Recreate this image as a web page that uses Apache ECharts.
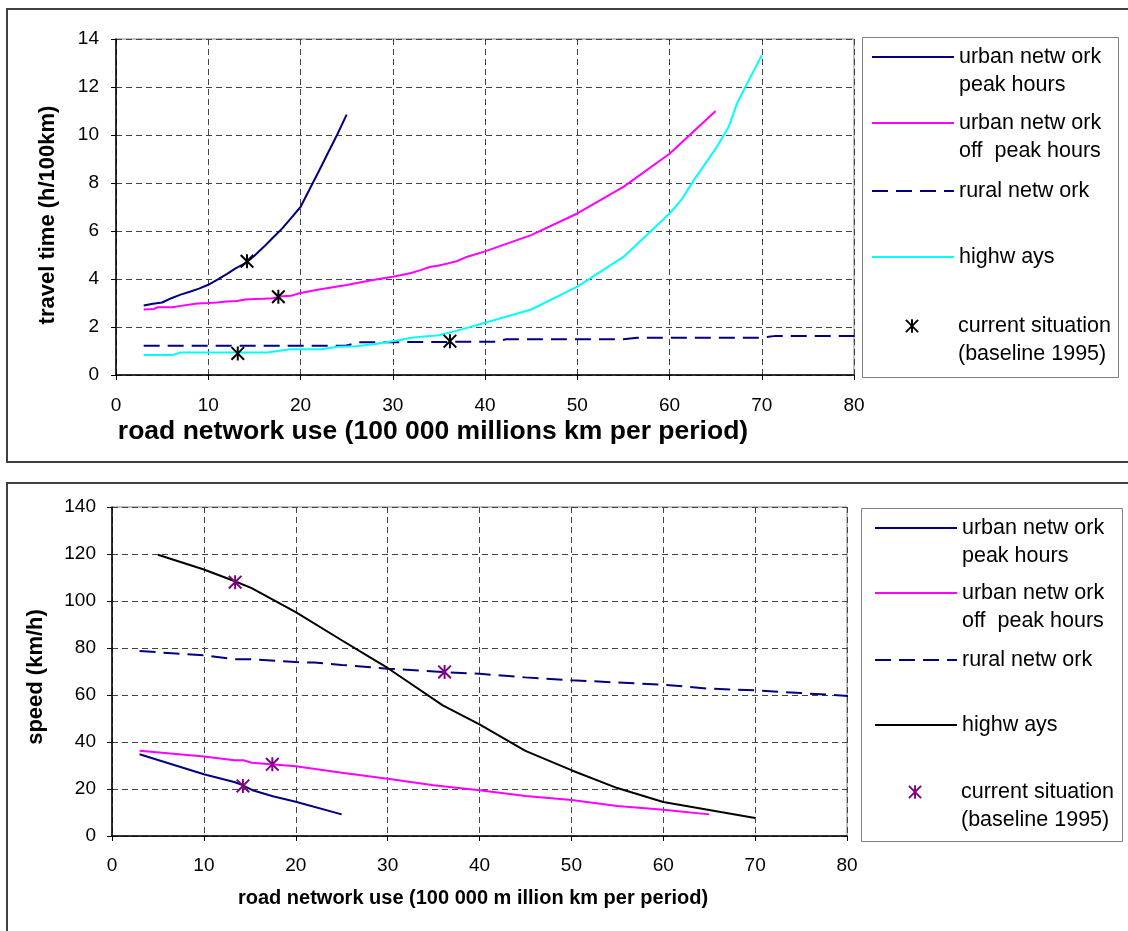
<!DOCTYPE html>
<html><head><meta charset="utf-8">
<script src="https://cdn.jsdelivr.net/npm/echarts@6/dist/echarts.min.js"></script>
<style>html,body{margin:0;padding:0;background:#fff}#c{width:1128px;height:931px}</style>
</head><body><div id="c"></div>
<script>
// ---------- DATA (x = road network use, y = value) ----------
// Top chart: travel time (h/100km)
const travelPeak = [[3,2.9],[4,2.97],[5,3.02],[6,3.2],[7,3.35],[8,3.47],[9,3.6],[10,3.76],[11,3.97],[12,4.2],[13,4.45],[14,4.65],[15,4.97],[16,5.33],[17,5.72],[18,6.1],[19,6.55],[20,7.0],[21,7.75],[22,8.5],[23,9.27],[24,10.03],[25,10.85]];
const travelOffPeak = [[3,2.73],[4.1,2.75],[4.5,2.82],[6.1,2.82],[7,2.88],[8.8,2.98],[10,3.0],[11,3.02],[12,3.06],[13.1,3.08],[14,3.15],[15,3.17],[16,3.18],[17,3.2],[18,3.28],[19,3.3],[20,3.42],[22,3.56],[25,3.75],[28,3.97],[30,4.09],[32,4.25],[33,4.37],[34,4.5],[35,4.56],[36,4.65],[37,4.75],[38,4.92],[40,5.15],[45,5.83],[50,6.73],[55,7.84],[60,9.22],[65,11.0]];
const travelRural = [[3,1.22],[24.9,1.22],[26.3,1.36],[41.3,1.39],[42.3,1.49],[55,1.49],[56.5,1.55],[69.8,1.55],[71.5,1.63],[81,1.63]];
const travelHighways = [[3,0.83],[6.1,0.83],[7,0.94],[10,0.94],[16.4,0.94],[17.5,1.0],[18.9,1.07],[22.3,1.07],[24,1.18],[26,1.2],[27.9,1.28],[30.8,1.46],[32,1.55],[34,1.62],[35,1.66],[37,1.85],[40,2.18],[45,2.73],[50,3.68],[55,4.92],[60,6.73],[61.3,7.31],[62.6,8.1],[65,9.43],[66.4,10.33],[67.3,11.3],[68.4,12.14],[70,13.32]];
const travelBaseline = [[14.2,4.74],[17.6,3.26],[13.2,0.9],[36.2,1.41]];

// Bottom chart: speed (km/h)
const speedPeak = [[3,34.8],[10,26.3],[13.3,23.0],[14,22.0],[15.3,19.5],[17.5,16.9],[20,14.6],[25,9.2]];
const speedOffPeak = [[3,36.3],[10,33.8],[13.3,32.2],[14.3,32.2],[15.2,31.2],[20,29.7],[25,26.9],[30,24.4],[35,21.6],[40,19.5],[45,17.0],[50,15.3],[55,12.8],[60,11.2],[65,9.2]];
const speedRural = [[3,78.7],[10,76.9],[13.3,75.2],[15.3,75.2],[20,74.0],[22,73.8],[25,72.8],[30,71.2],[36,69.8],[40,69.0],[45,67.5],[50,66.3],[55,65.3],[60,64.4],[65,62.7],[70,62.0],[75,60.8],[81,59.4]];
const speedHighways = [[5,119.7],[10,113.4],[13.3,108.5],[15.2,105.5],[20,95.3],[25,83.3],[28,76.2],[30,71.5],[36,55.6],[40,47.5],[45,36.2],[50,28.0],[55,20.4],[60,14.5],[70,7.7]];
const speedBaseline = [[13.4,108],[17.45,30.5],[14.25,21.3],[36.2,69.8]];

// Axes
const xMin = 0, xMax = 80, xStep = 10;
const travelMin = 0, travelMax = 14, travelStep = 2;
const speedMin = 0, speedMax = 140, speedStep = 20;

// Texts
const legendTexts = {
  tPeak: '\nurban netw ork\npeak hours', tOff: '\nurban netw ork\noff  peak hours', tRural: 'rural netw ork', tHigh: 'highw ays', tCur: '\ncurrent situation\n(baseline 1995)',
  sPeak: '\nurban netw ork\npeak hours', sOff: '\nurban netw ork\noff  peak hours', sRural: 'rural netw ork', sHigh: 'highw ays', sCur: '\ncurrent situation\n(baseline 1995)'
};
const topXTitle = 'road network use (100 000 millions km per period)';
const bottomXTitle = 'road network use (100 000 m illion km per period)';
const topYTitle = 'travel time (h/100km)';
const bottomYTitle = 'speed (km/h)';

// ---------- CHART ----------
const F = '"Liberation Sans", Arial, sans-serif';
const NAVY = '#000080', MAGENTA = '#ff00ff', CYAN = '#00ffff', BLACK = '#000000', PURPLE = '#800080';
const STAR = 'path://M43,0L57,0L57,100L43,100Z M10,0L100,90L90,100L0,10Z M90,0L100,10L10,100L0,90Z';

function xAxisCfg(gi, margin) {
  return {type:'value', gridIndex:gi, min:xMin, max:xMax, interval:xStep,
    axisLine:{show:true, onZero:false, lineStyle:{color:'#000', width:1.5}},
    axisTick:{show:true, length:5, lineStyle:{color:'#000'}},
    axisLabel:{color:'#000', fontSize:19, fontFamily:F, margin:margin},
    splitLine:{show:true, lineStyle:{color:'#444', type:[6,4], width:1}}};
}
function yAxisCfg(gi, min, max, step, margin) {
  return {type:'value', gridIndex:gi, min:min, max:max, interval:step,
    axisLine:{show:true, onZero:false, lineStyle:{color:'#000', width:1.5}},
    axisTick:{show:true, length:5, lineStyle:{color:'#000'}},
    axisLabel:{color:'#000', fontSize:19, fontFamily:F, margin:margin},
    splitLine:{show:true, lineStyle:{color:'#444', type:[6,4], width:1}}};
}
function lineSeries(name, gi, data, color, dashed) {
  return {name:name, type:'line', xAxisIndex:gi, yAxisIndex:gi, data:data, showSymbol:false, symbol:'none',
    clip:false, animation:false, silent:true,
    lineStyle:{color:color, width:2, type: dashed ? [16,8] : 'solid'}, itemStyle:{color:color}};
}
// baseline points: markers only (connecting line fully transparent)
function starSeries(name, gi, data, color) {
  return {name:name, type:'line', xAxisIndex:gi, yAxisIndex:gi, data:data, symbol:STAR, symbolSize:14,
    showSymbol:true, showAllSymbol:true, clip:false, animation:false, silent:true,
    lineStyle:{color:color, width:0, opacity:0}, itemStyle:{color:color, opacity:1}, z:5};
}
function legendCfg(name, left, top, isStar) {
  return {data:[name], left:left, top:top, orient:'vertical', padding:0, itemWidth:82, itemHeight: isStar ? 17 : 14,
    selectedMode:false,
    itemStyle: isStar ? {opacity:1} : {opacity:0},
    formatter: n => legendTexts[n],
    textStyle:{color:'#000', fontSize:21.5, lineHeight:28, fontFamily:F}};
}

const option = {
  backgroundColor:'#fff',
  animation:false,
  grid:[
    {left:116, top:39, width:738, height:336, show:true, borderColor:'#808080', borderWidth:1, outerBoundsMode:'none', containLabel:false},
    {left:112, top:507, width:735, height:329, show:true, borderColor:'#808080', borderWidth:1, outerBoundsMode:'none', containLabel:false}
  ],
  xAxis:[xAxisCfg(0, 21), xAxisCfg(1, 20)],
  yAxis:[yAxisCfg(0, travelMin, travelMax, travelStep, 17), yAxisCfg(1, speedMin, speedMax, speedStep, 16)],
  legend:[
    legendCfg('tPeak', 871, 15), legendCfg('tOff', 871, 81), legendCfg('tRural', 871, 177), legendCfg('tHigh', 871, 243), legendCfg('tCur', 871, 284, true),
    legendCfg('sPeak', 874, 486), legendCfg('sOff', 874, 551), legendCfg('sRural', 874, 646), legendCfg('sHigh', 874, 711), legendCfg('sCur', 874, 750, true)
  ],
  series:[
    lineSeries('tRural', 0, travelRural, NAVY, true),
    lineSeries('tHigh', 0, travelHighways, CYAN, false),
    lineSeries('tOff', 0, travelOffPeak, MAGENTA, false),
    lineSeries('tPeak', 0, travelPeak, NAVY, false),
    starSeries('tCur', 0, travelBaseline, BLACK),
    lineSeries('sRural', 1, speedRural, NAVY, true),
    lineSeries('sHigh', 1, speedHighways, BLACK, false),
    lineSeries('sOff', 1, speedOffPeak, MAGENTA, false),
    lineSeries('sPeak', 1, speedPeak, NAVY, false),
    starSeries('sCur', 1, speedBaseline, PURPLE)
  ],
  graphic:[
    {type:'rect', shape:{x:7, y:9, width:1130, height:453}, style:{fill:'none', stroke:'#404040', lineWidth:2}, silent:true, z:-1},
    {type:'rect', shape:{x:7, y:483, width:1130, height:460}, style:{fill:'none', stroke:'#404040', lineWidth:2}, silent:true, z:-1},
    {type:'rect', shape:{x:862.5, y:37.5, width:256, height:340}, style:{fill:'none', stroke:'#808080', lineWidth:1}, silent:true},
    {type:'rect', shape:{x:861.5, y:508.5, width:261, height:333}, style:{fill:'none', stroke:'#808080', lineWidth:1}, silent:true},
    {type:'text', x:433, y:432, style:{text:topXTitle, font:'bold 26.5px ' + F, fill:'#000', align:'center', verticalAlign:'middle'}, silent:true},
    {type:'text', x:473, y:898, style:{text:bottomXTitle, font:'bold 20px ' + F, fill:'#000', align:'center', verticalAlign:'middle'}, silent:true},
    {type:'text', x:48, y:215, rotation:Math.PI/2, style:{text:topYTitle, font:'bold 22px ' + F, fill:'#000', align:'center', verticalAlign:'middle'}, silent:true},
    {type:'text', x:36, y:677, rotation:Math.PI/2, style:{text:bottomYTitle, font:'bold 22px ' + F, fill:'#000', align:'center', verticalAlign:'middle'}, silent:true}
  ]
};
const chart = echarts.init(document.getElementById('c'), null, {renderer:'canvas'});
chart.setOption(option);
</script></body></html>
